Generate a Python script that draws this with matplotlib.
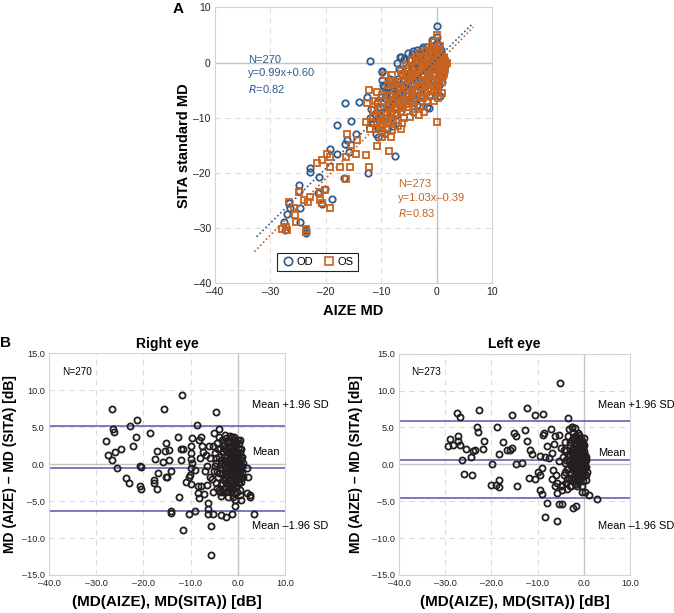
import matplotlib
matplotlib.use("Agg")
import matplotlib.pyplot as plt
from matplotlib.lines import Line2D

plt.rcParams['font.family'] = ['Liberation Sans', 'DejaVu Sans']

# ---------------- Panel A data ----------------
od_x = [0.0, 0.1, -6.5, -12.1, -9.8, -9.8, -9.5, -12.5, -14.0, -16.6, -1.4, -9.3, -15.4, -18.0, -7.5,
        -14.6, -16.1, -16.6, -19.3, -18.0, -15.8, -22.8, -22.8, -21.3, -16.7, -12.3, -24.8, -24.9, -21.4,
        -20.1, -18.9, -20.7, -26.7, -26.4, -24.7, -27.0, -27.6, -24.7, -23.5, -23.6, -27.3,
        -2.4, -4.2, -5.2, -6.6, -7.2, -9.9, -9.6, -3.6, -0.25, 0.35,
        -11.0, -10.5, -10.2, -9.8, -9.5, -9.0, -8.8, -8.5, -8.2, -8.0, -7.8, -7.5, -7.3, -7.0, -6.8, -6.5,
        -6.3, -6.0, -5.8, -5.5, -5.3, -5.0, -5.0, -4.8, -4.5, -4.5, -4.2, -4.0, -4.0, -3.8, -3.5, -3.5,
        -3.2, -3.0, -3.0, -2.8, -2.6, -2.5, -2.5, -2.3, -2.0, -2.0, -2.0, -1.8, -1.6, -1.5, -1.3, -1.2,
        -1.0, -1.0, -0.8, -0.7, -0.5, -0.5, -0.3, -0.2, 0.0, 0.0, 0.2, 0.3, 0.5, 0.5, 0.8, 0.8, 1.0, 1.2,
        0.4, -0.9, 1.0, -3.6, -5.8, -6.8, -8.5, -9.0, -10.0, -11.5, -12.0, -11.0, -10.5, -9.3,
        -11.8, -10.8, -9.2, -8.0, -7.0, -6.0, -5.0, -4.0, -3.0, -2.0, -1.0, 0.0, 0.8, -0.5, -1.5, -2.5,
        -3.5, -4.5, -5.5, -6.5, 1.3, 0.6, -1.8, -4.2, -7.8]
od_y = [6.6, 4.6, 1.0, 0.3, -1.5, -3.2, -4.4, -6.2, -7.2, -7.4, -8.3, -6.5, -10.6, -11.3, -16.9,
        -12.9, -14.1, -14.8, -15.7, -16.5, -16.2, -19.2, -19.8, -20.8, -21.0, -20.0, -22.2, -23.3, -23.7,
        -23.0, -24.7, -25.7, -25.4, -26.4, -26.3, -27.4, -28.9, -28.9, -30.9, -30.4, -30.4,
        2.9, 2.0, 1.8, 1.05, -0.15, -1.7, -4.1, -7.7, 2.0, 0.45,
        -9.5, -11.8, -8.0, -10.5, -9.0, -12.0, -7.5, -10.0, -5.5, -8.8, -4.0, -6.5, -9.5, -3.0, -5.5, -7.8,
        -2.0, -4.5, -6.8, -1.0, -3.5, -5.8, 0.5, -2.5, -4.8, 1.5, -1.0, -3.0, -6.5, 0.2, -2.0, -5.0,
        1.5, -0.5, -3.5, -7.0, 2.5, 0.5, -2.5, -4.5, 1.0, -1.5, -5.5, 2.8, 0.0, -3.0, -6.0, 1.8,
        -0.8, -4.0, 3.0, 0.8, -2.0, -5.0, 2.0, -0.5, 3.5, -3.0, 1.0, -1.5, 0.0, -4.0, 2.2, -2.5, -0.5, 1.0,
        3.0, 4.0, -3.5, 2.3, 0.7, -1.2, -3.0, -4.5, -6.2, -11.0, -10.0, -13.0, -13.5, -12.7,
        -8.5, -7.2, -5.8, -6.0, -4.8, -3.0, -2.0, -0.8, 0.8, 2.0, 1.5, 2.0, 0.5, -1.0, -1.8, -3.5,
        -4.0, -6.0, -7.0, -8.8, -1.8, -6.0, -8.0, -9.0, -11.5]

os_x = [0.1, -1.4, 0.0, -12.2, -10.8, -9.4, -8.0, -8.2, -12.5, -11.3, -12.8, -10.1, -6.5, -8.2, -9.8,
        -10.8, -8.6, -12.2, -12.8, -15.5, -16.1, -14.3, -14.6, -16.3, -15.7, -16.4, -17.5, -19.2, -19.8,
        -19.2, -21.6, -20.7, -24.9, -22.8, -21.0, -20.1, -21.0, -20.7, -19.2, -24.0, -23.3, -26.7, -25.8,
        -25.5, -25.3, -27.1, -27.9, -27.0, -23.6, -23.6,
        -11.5, -11.0, -10.8, -10.5, -10.2, -10.0, -9.8, -9.5, -9.2, -9.0, -8.8, -8.5, -8.3, -8.0, -7.8,
        -7.5, -7.3, -7.0, -7.0, -6.8, -6.5, -6.3, -6.0, -6.0, -5.8, -5.5, -5.3, -5.0, -5.0, -4.8, -4.5,
        -4.5, -4.2, -4.0, -4.0, -3.8, -3.5, -3.5, -3.3, -3.0, -3.0, -2.8, -2.8, -2.5, -2.5, -2.3, -2.0,
        -2.0, -2.0, -1.8, -1.6, -1.5, -1.5, -1.3, -1.2, -1.0, -1.0, -0.8, -0.7, -0.5, -0.5, -0.3, -0.2,
        0.0, 0.0, 0.2, 0.3, 0.5, 0.5, 0.8, 0.8, 1.0, 1.0, 1.2, 1.5, 1.5, 1.7, 1.3, 0.6, -0.4, -3.2,
        -4.8, -6.2, -8.0, -9.3, -12.0, -11.8, -10.6, -9.8, -8.8, -7.5, -6.5, -5.5, -0.5, 0.3, 1.0, -2.2,
        -11.2, -10.4, -9.6, -9.0, -8.6, -8.2, -7.6, -7.2, -6.8, -6.6, -6.2, -5.9, -5.6, -5.2, -5.0, -4.7,
        -4.4, -4.2, -3.9, -3.7, -3.4, -3.1, -2.9, -2.7, -2.4, -2.2, -2.1, -1.9, -1.7, -1.4, -1.2, -1.1,
        -0.9, -0.8, -0.6, -0.4, -0.3, -0.1, 0.1, 0.2, 0.4, 0.6, 0.7, 0.9, 1.1, 1.3, 1.4, 1.6, 1.8, 1.1,
        0.0, -0.5, -1.5, -2.5, -3.5, -4.5, -5.5, -6.5, -7.5, -8.5]
os_y = [4.9, 2.8, -10.7, -5.0, -5.3, -2.3, -2.3, -3.8, -7.4, -8.6, -10.7, -10.1, -12.0, -13.5, -13.5,
        -15.1, -16.0, -18.9, -16.8, -15.0, -12.9, -14.1, -16.5, -17.1, -18.9, -21.2, -18.9, -18.9, -16.5,
        -17.1, -18.3, -17.7, -23.4, -24.3, -23.4, -23.1, -24.9, -25.5, -26.4, -24.9, -25.2, -25.2, -26.4,
        -27.6, -28.9, -29.8, -30.1, -30.4, -30.1, -30.7,
        -9.8, -12.0, -10.8, -8.5, -11.5, -9.5, -12.5, -7.0, -10.0, -8.5, -11.0, -6.0, -9.0, -7.5, -10.5,
        -5.0, -8.0, -6.5, -11.5, -3.5, -9.0, -5.5, -7.0, -2.0, -10.0, -4.0, -6.0, -8.0, -1.0, -3.0, -5.5,
        0.5, -7.0, -2.0, -4.0, 1.0, -6.0, -0.5, -3.0, -8.0, 1.8, -1.5, -4.5, 0.0, -6.5, -2.5, 2.0,
        -0.5, -4.0, -7.0, 1.0, -2.0, -5.0, 2.8, 0.0, -3.0, -6.0, 1.5, -1.0, -4.5, 2.5, 0.3, -2.0,
        -3.5, 1.5, -0.5, -5.0, 2.0, -2.5, 0.5, -1.5, -3.5, 1.2, -0.2, 0.3, -1.0, -0.3, -2.0, 3.0, 3.8, -9.5,
        -9.8, -11.0, -12.3, -13.0, -12.0, -10.8, -7.5, -5.8, -4.0, -3.5, -1.5, -0.5, -7.0, -6.5, -5.5, -9.0,
        -7.0, -9.8, -11.2, -6.0, -7.8, -10.8, -6.8, -9.2, -7.5, -4.5, -8.2, -5.0, -7.5, -3.2, -6.8, -4.2,
        -1.5, -8.5, -5.2, -2.5, 0.2, -4.2, -6.2, -0.8, -3.5, 1.2, -5.5, -1.2, -3.8, 0.5, -2.4, -5.2,
        2.2, -0.2, -3.5, 1.0, -1.4, -4.2, 2.5, 0.8, -1.0, -3.0, 1.5, -0.8, 0.2, -1.5, 0.8, -0.6, 0.0, -2.5,
        0.5, -0.5, -1.0, -2.0, -2.0, -3.0, -2.5, -6.0, -8.5, -8.5]

od_fit = (0.99, 0.60)
os_fit = (1.03, -0.39)
fit_x = [-32.5, 6.4]
fit_x_os = [-32.9, 6.6]

# ---------------- Panel B data ----------------
right_x = [-26.7, -26.4, -26.2, -28.0, -27.6, -26.0, -26.6, -25.5, -24.8, -22.9, -21.3, -21.5, -22.2,
           -23.7, -23.1, -20.8, -20.6, -20.8, -20.4, -18.5, -17.6, -17.1, -17.8, -17.8, -17.2, -17.0,
           -15.7, -15.5, -15.9, -15.2, -14.5, -14.6, -15.3, -15.0, -14.1, -14.1, -14.1, -11.8, -12.7,
           -12.0, -11.7, -12.0, -11.0, -10.3, -10.0, -10.3, -11.5, -12.5, -9.6, -10.0, -10.0, -10.0,
           -9.6, -10.0, -10.1, -8.7, -8.2, -7.8, -7.5, -8.5, -8.5, -8.2, -7.7, -9.0, -9.1, -6.3, -6.3,
           -6.3, -5.6, -5.7, -5.3, -5.0, -4.5, -4.0, -3.5, -2.4, -1.2, -0.6, 0.6, -0.5, 2.0, 2.7, 2.6,
           3.5, 2.0, 2.1,
           -5.0, -4.8, -4.6, -4.5, -4.3, -4.2, -4.0, -4.0, -3.8, -3.7, -3.6, -3.5, -3.4, -3.3, -3.2, -3.1,
           -3.0, -3.0, -2.9, -2.8, -2.7, -2.7, -2.6, -2.5, -2.5, -2.4, -2.3, -2.2, -2.2, -2.1, -2.0, -2.0,
           -1.9, -1.8, -1.8, -1.7, -1.6, -1.6, -1.5, -1.5, -1.4, -1.3, -1.3, -1.2, -1.1, -1.0, -1.0, -1.0,
           -0.9, -0.8, -0.8, -0.7, -0.6, -0.6, -0.5, -0.5, -0.4, -0.3, -0.3, -0.2, -0.2, -0.1, 0.0, 0.0,
           0.0, 0.1, 0.2, 0.2, 0.3, 0.3, 0.4, 0.5, 0.5, 0.6, 0.7, 0.8, 0.9, 1.0, 1.0, -3.9, -4.4, -5.2,
           -5.5, -5.8, -5.2, -3.5, -2.0, -1.0, 0.5, -2.8, -1.7, -0.8, 0.5,
           -7.0, -6.8, -6.5, -6.0, -7.2, -6.6, -5.8, -8.0, -7.4,
           -3.0, -2.8, -2.6, -2.4, -2.2, -2.0, -1.9, -1.8, -1.7, -1.6, -1.5, -1.4, -1.3, -1.2, -1.1, -1.0,
           -0.9, -0.9, -0.8, -0.7, -0.6, -0.6, -0.5, -0.4, -0.3, -0.3, -0.2, -0.1, 0.0, 0.0, 0.1, 0.2,
           0.3, 0.4, 0.4, 0.5, 0.6, 0.7, 0.8, -3.3, -3.6, -3.9, -4.1, -3.2, -2.5, -1.4, -0.2, 1.2, 1.1,
           -4.8, -4.4, -3.7, -2.3, -1.2, 0.0, -4.6]
right_y = [7.5, 4.7, 4.3, 3.1, 1.2, 1.6, 0.5, -0.5, 2.1, 5.2, 5.9, 3.7, 2.4,
           -1.9, -2.5, -0.2, -0.4, -3.0, -3.4, 4.2, 0.7, 1.7, -2.1, -2.5, -3.4, -1.2,
           7.5, 1.7, 0.3, 2.8, 1.9, 0.5, -1.7, -1.7, -1.0, -6.4, -6.6, 9.4, 3.7,
           2.1, 2.1, 0.5, -2.4, -1.7, -2.7, -6.7, -8.9, -4.5, 3.5, 2.4, 1.5, 0.7,
           0.2, -0.6, -1.5, 5.3, 3.3, 3.7, 2.4, -3.0, -3.9, -4.6, -3.0, -0.8, -6.3, -5.3, -6.1,
           -6.7, -8.4, -12.3, -6.7, 4.2, 7.0, 4.7, -6.9, -7.2, -6.7, -4.8, -4.8, -5.7, -3.9, -4.2, -4.5,
           -6.7, -0.6, -1.8,
           -1.0, 1.5, -2.5, 0.2, 2.8, -1.8, -3.5, 1.0, -0.5, 2.2, -2.8, 0.6, 3.3, -1.4, -3.8, 1.8,
           -0.2, -2.2, 2.9, 0.9, -3.2, -1.0, 2.0, -0.6, -2.6, 3.5, 1.2, -1.6, -3.6, 0.3, 2.5, -0.9,
           -2.1, 1.6, -3.0, 0.0, 3.0, -1.3, -2.5, 0.8, 2.2, -0.4, -3.4, 1.3, -1.8, 3.3, 0.2, -2.8,
           1.9, -0.8, -3.9, 0.6, 2.6, -1.5, -2.3, 1.1, -0.2, 3.0, -3.1, 1.6, -1.1, 0.4, 2.2, -2.0,
           -0.6, 1.0, -1.6, 2.8, 0.0, -2.6, 1.5, -0.9, -3.5, 0.6, -1.9, 2.0, -0.3, -1.2, 0.9, 3.6, -3.2, 2.4,
           -2.0, 0.8, -3.8, -4.3, -4.5, -4.5, -4.2, 3.9, 3.8, 3.6, 3.2,
           -1.0, 1.2, -2.8, 2.5, -4.0, -0.2, -1.8, 0.8, 1.6,
           1.0, -1.8, 0.4, -1.2, 1.8, 0.0, -3.2, 0.6, -1.0, 2.0, -0.2, -2.0, 1.0, -0.8, 2.8, -1.6,
           0.0, -3.4, 1.4, -0.4, -2.4, 0.9, 2.0, -1.2, 0.2, -2.0, 1.2, -0.6, 0.6, -1.4, -2.6, 0.2,
           -1.0, 2.0, -0.2, -1.6, 1.0, -0.6, -2.4, -2.6, 0.0, -1.2, 2.0, 2.4, -3.8, -3.8, -3.8, -1.8, 0.2,
           -0.2, -1.0, -3.8, 3.0, 3.6, 3.3, 0.8]

left_x = [-5.2, -29.0, -29.4, -28.3, -27.2, -27.4, -26.8, -27.2, -26.8, -25.5, -26.3, -25.9, -24.2,
          -24.5, -23.96, -23.5, -23.2, -23.0, -22.8, -21.9, -21.6, -19.8, -20.2, -19.1, -18.3, -18.3,
          -18.7, -18.3, -17.5, -16.7, -15.5, -15.5, -15.1, -14.8, -16.0, -14.4, -14.6, -12.8, -12.3,
          -12.3, -13.3, -11.8, -11.7, -11.3, -10.6, -9.6, -9.5, -9.5, -9.0, -8.9, -8.6, -8.9, -8.4,
          -7.9, -7.2, -6.6, -5.9, -5.9, -5.4, -4.8, -5.0, -3.5, -2.6, -2.3, -1.8, 0.25, 1.0, 2.8, -0.5,
          -4.5, -4.3, -4.2, -4.0, -3.9, -3.8, -3.6, -3.5, -3.4, -3.3, -3.2, -3.0, -3.0, -2.9, -2.8, -2.7,
          -2.6, -2.5, -2.4, -2.3, -2.2, -2.1, -2.0, -2.0, -1.9, -1.8, -1.8, -1.7, -1.6, -1.5, -1.5, -1.4,
          -1.3, -1.2, -1.2, -1.1, -1.0, -1.0, -0.9, -0.8, -0.8, -0.7, -0.6, -0.5, -0.5, -0.4, -0.4, -0.3,
          -0.2, -0.2, -0.1, 0.0, 0.0, 0.1, 0.2, 0.3, 0.3, 0.5, -2.3, -1.9, -2.6, -3.2, -1.2, -4.7, -5.0,
          -5.5, -6.0, -6.5, -7.0, -7.5, -6.2, -5.5, -4.8, -3.6, -2.8, -1.5, -0.5, 0.4, -8.0, -8.5, -9.0,
          -10.0, -10.5, -7.0, -6.2, -5.8, -1.0, -0.6, -1.6, -2.1, 0.1, -0.3,
          -2.5, -2.4, -2.3, -2.2, -2.1, -2.0, -1.9, -1.8, -1.7, -1.6, -1.5, -1.4, -1.3, -1.3, -1.2, -1.1,
          -1.0, -1.0, -0.9, -0.8, -0.8, -0.7, -0.6, -0.6, -0.5, -0.5, -0.4, -0.3, -0.3, -0.2, -0.1, 0.0,
          0.0, 0.1, 0.2, 0.3, 0.4, 0.4, -2.7, -3.0, -2.9, -3.4, -3.1, -1.7, -2.4, -1.0, -3.8, -4.0, 0.6,
          0.5, -2.0, -1.2, -0.3, -4.4, -3.6]
left_y = [11.0, 3.4, 2.5, 2.6, 3.8, 6.9, 6.4, 3.1, 2.6, 2.1, 0.6, -1.3, -1.5,
          1.0, 1.8, 1.9, 5.0, 4.4, 7.4, 2.1, 3.2, 0.05, -2.8, -2.8, -2.1, -3.1,
          5.0, 1.45, 3.0, 2.0, 6.75, 2.2, 4.3, 3.8, 2.0, -3.0, 0.1, 4.6, 7.7,
          3.1, 0.2, -1.8, 2.0, 1.45, 6.7, 1.1, -1.5, -3.5, -4.0, 4.0, 4.2, 6.8, -7.1,
          -5.3, 4.8, -0.7, -7.7, -3.9, -5.4, -5.4, -3.0, 6.3, 5.0, -5.9, -5.7, -3.7, -4.1, -4.7, -3.8,
          1.0, -1.5, 3.0, 0.2, -2.5, 2.0, -0.6, 3.8, 1.2, -1.8, 0.5, 2.6, -3.0, -0.2, 1.7, -1.2,
          3.3, 0.8, -2.2, 2.2, -0.5, 1.4, 3.8, -1.5, 0.2, 2.8, -2.6, 1.0, -0.9, 3.5, 1.9, -0.2,
          -1.9, 2.4, 0.6, -1.3, 3.0, 1.5, -0.5, -2.3, 0.9, 2.0, -1.0, 3.2, 0.3, 1.6, -1.7, -0.4,
          2.5, 1.0, -1.2, 0.0, 1.8, -0.8, 0.7, -0.3, 1.3, -1.4, 4.2, 4.9, 5.0, 4.8, 4.3, -2.8, 2.2,
          0.5, -1.5, 2.8, 1.5, 0.8, 3.8, 4.0, -3.5, -3.3, -3.0, -2.9, -2.9, -2.1, 2.5, 1.0, -0.5,
          -1.0, -2.0, -2.0, -3.0, -2.5, 0.4, 2.2, -0.1, 0.3, 3.6, 2.9,
          1.5, -0.8, 0.2, 2.8, -1.8, 1.0, -0.4, 2.0, -1.2, 0.6, 2.6, -0.8, 1.2, 3.2, -0.2, 1.9,
          -1.8, 0.4, 2.6, -0.2, 1.4, -1.5, 0.6, 3.6, -0.8, 2.0, 0.0, 1.2, -1.1, 2.2, 0.4, -0.6,
          1.2, 2.6, -1.4, 0.3, -0.4, 1.0, 0.0, 1.2, -1.8, -0.6, 3.0, 3.8, 3.6, 4.0, 0.6, -1.0, -1.0,
          0.6, -2.6, -2.4, -2.2, 2.0, -2.0]

right_stats = (-0.56, 5.17, -6.38)
left_stats = (0.59, 5.94, -4.62)

blue = '#2f5b8f'
orange = '#c8621f'
gridc = '#dcdcdc'
zeroc = '#c4c4c4'
linec = '#5558a8'

fig = plt.figure(figsize=(6.74, 6.13), dpi=100)


def dash(v, fmt):
    s = fmt.format(abs(v))
    return ('\u2013' + s) if v < 0 else s


def style(ax, ls):
    ax.grid(True, linestyle=(0, (5, 4)), color=gridc, linewidth=0.8)
    ax.set_axisbelow(True)
    for s in ax.spines.values():
        s.set_color('#d4d4d4')
        s.set_linewidth(0.8)
    ax.tick_params(length=0, labelsize=ls, pad=3, colors='#222222')


# ---------------- Panel A ----------------
axA = fig.add_axes([0.319, 0.538, 0.411, 0.450])
style(axA, 7.5)
axA.axhline(0, color=zeroc, lw=1.0, zorder=1)
axA.axvline(0, color=zeroc, lw=1.0, zorder=1)
axA.plot(od_x, od_y, 'o', mfc='none', mec=blue, mew=1.3, ms=4.6, zorder=3)
axA.plot(os_x, os_y, 's', mfc='none', mec=orange, mew=1.3, ms=4.4, zorder=4)
axA.plot(fit_x, [od_fit[0] * v + od_fit[1] for v in fit_x], linestyle=(0, (1, 1.5)), color=blue, lw=1.2, zorder=5)
axA.plot(fit_x_os, [os_fit[0] * v + os_fit[1] for v in fit_x_os], linestyle=(0, (1, 1.5)), color=orange, lw=1.2, zorder=5)
axA.set_xlim(-40, 10)
axA.set_ylim(-40, 10)
ticksA = [-40, -30, -20, -10, 0, 10]
axA.set_xticks(ticksA)
axA.set_yticks(ticksA)
axA.set_xticklabels([dash(v, '{:d}') for v in ticksA])
axA.set_yticklabels([dash(v, '{:d}') for v in ticksA])
axA.set_xlabel('AIZE MD', fontsize=10.5, fontweight='bold', labelpad=5)
axA.set_ylabel('SITA standard MD', fontsize=10.5, fontweight='bold', labelpad=2)
axA.text(-34, -2.2, 'N=270\ny=0.99x+0.60\n$\\it{R}$=0.82', color=blue, fontsize=8,
         va='center', ha='left', linespacing=1.45)
axA.text(-6.9, -24.8, 'N=273\ny=1.03x\u20130.39\n$\\it{R}$=0.83', color=orange, fontsize=8,
         va='center', ha='left', linespacing=1.45)
handles = [Line2D([], [], marker='o', ls='none', mfc='none', mec=blue, mew=1.2, ms=6),
           Line2D([], [], marker='s', ls='none', mfc='none', mec=orange, mew=1.2, ms=6)]
leg = axA.legend(handles, ['OD', 'OS'], loc='center', bbox_to_anchor=(0.37, 0.078), ncol=2,
                 fancybox=False, edgecolor='#222222', fontsize=8, handletextpad=0.2,
                 columnspacing=0.8, borderpad=0.35, handlelength=1.2, framealpha=1)
leg.get_frame().set_linewidth(0.8)
fig.text(0.256, 0.996, 'A', fontsize=11, fontweight='bold', ha='left', va='top')


# ---------------- Panel B ----------------
def bland(rect, xs, ys, stats, title, ntext, ypad):
    ax = fig.add_axes(rect)
    style(ax, 6.6)
    ax.axhline(0, color=zeroc, lw=1.0, zorder=1)
    ax.axvline(0, color=zeroc, lw=1.0, zorder=1)
    for v in stats:
        ax.axhline(v, color=linec, lw=1.1, zorder=2)
    ax.plot(xs, ys, 'o', mfc='none', mec='#231f20', mew=1.3, ms=4.4, zorder=3)
    ax.set_xlim(-40, 10)
    ax.set_ylim(-15, 15)
    xt = [-40, -30, -20, -10, 0, 10]
    yt = [-15, -10, -5, 0, 5, 10, 15]
    ax.set_xticks(xt)
    ax.set_yticks(yt)
    ax.set_xticklabels([dash(v, '{:.1f}') for v in xt])
    ax.set_yticklabels([dash(v, '{:.1f}') for v in yt])
    ax.set_title(title, fontsize=10, fontweight='bold', pad=4)
    ax.set_xlabel('(MD(AIZE), MD(SITA)) [dB]', fontsize=11, fontweight='bold', labelpad=5)
    ax.set_ylabel('MD (AIZE) \u2013 MD (SITA) [dB]', fontsize=10, fontweight='bold', labelpad=ypad)
    ax.text(-37.3, 12.5, ntext, fontsize=7.2, va='center', ha='left')
    ax.text(3.1, 8.0, 'Mean +1.96 SD', fontsize=7.9, va='center', ha='left', clip_on=False)
    ax.text(3.1, 1.6, 'Mean', fontsize=7.9, va='center', ha='left', clip_on=False)
    ax.text(3.1, -8.4, 'Mean \u20131.96 SD', fontsize=7.9, va='center', ha='left', clip_on=False)
    return ax


bland([0.0727, 0.062, 0.350, 0.362], right_x, right_y, right_stats, 'Right eye', 'N=270', 3.5)
bland([0.592, 0.062, 0.343, 0.361], left_x, left_y, left_stats, 'Left eye', 'N=273', 6.5)
fig.text(0.0, 0.452, 'B', fontsize=11, fontweight='bold', ha='left', va='top')

fig.savefig('out.png', dpi=100)
